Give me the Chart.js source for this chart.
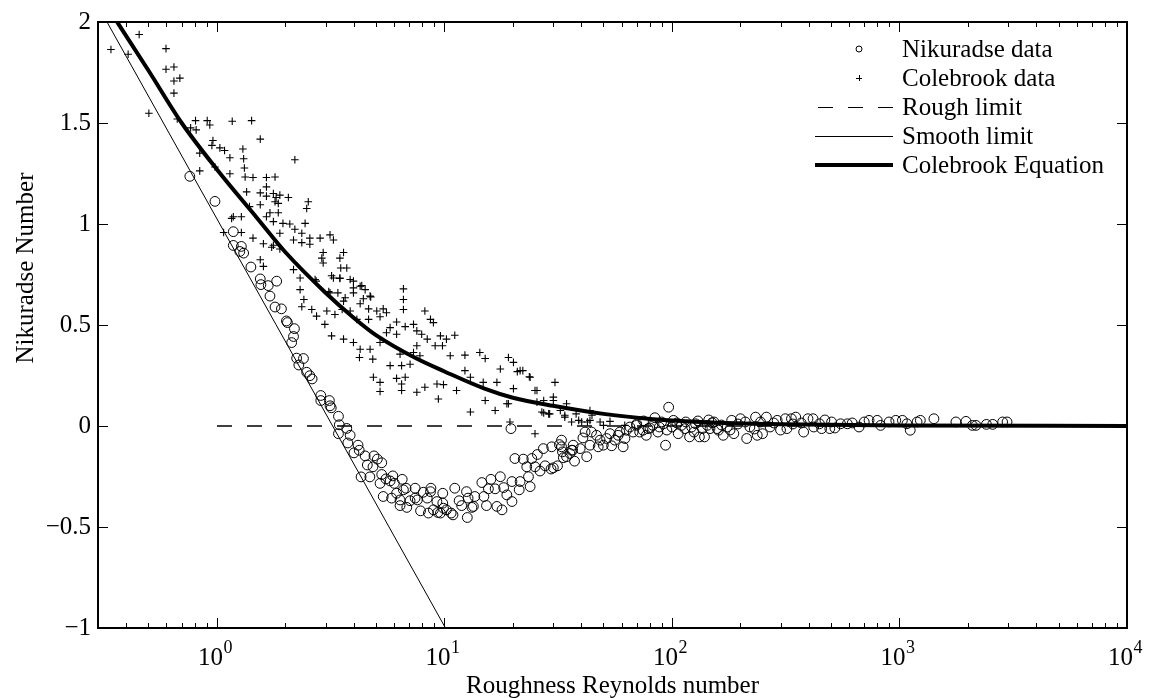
<!DOCTYPE html>
<html>
<head>
<meta charset="utf-8">
<style>
  html, body { margin: 0; padding: 0; background: #fff; }
  canvas { display: block; }
</style>
</head>
<body>
<canvas id="chart" width="1150" height="698"></canvas>
<script src="https://cdn.jsdelivr.net/npm/chart.js"></script>
<script>
// values
const xMin = 0.3, xMax = 10000;
const yMin = -1, yMax = 2;
const xTickExps = [0, 1, 2, 3, 4];
const yTicks = [-1, -0.5, 0, 0.5, 1, 1.5, 2];

const nikX = [0.76, 0.98, 1.18, 1.18, 1.28, 1.26, 1.31, 1.41, 1.55, 1.56, 1.68, 1.83, 1.71, 1.80, 1.92, 2.02, 2.04, 2.19, 2.17, 2.13,
  2.24, 2.40, 2.29, 2.48, 2.56, 2.62, 2.86, 2.86, 3.12, 3.14, 3.18, 3.42, 3.45, 3.72, 3.42, 3.85, 3.76, 4.17, 4.22, 4.00,
  4.48, 4.90, 5.07, 5.30, 4.58, 4.85, 5.30, 5.93, 4.30, 4.70, 5.53, 5.77, 5.21, 6.52, 6.02, 5.38, 5.86, 6.16, 6.60, 6.78,
  6.38, 6.83, 6.38, 7.06, 7.43, 7.43, 7.60, 7.85, 8.07, 8.40, 8.68, 8.72, 8.50, 8.94, 9.26, 9.35, 9.83, 9.90, 9.60, 9.83,
  10.2, 10.7, 10.9, 11.1, 11.6, 11.9, 12.5, 12.7, 12.6, 13.2, 13.6, 13.4, 14.6, 14.9, 15.6, 16.0, 15.3, 16.7, 17.6, 17.0,
  17.9, 18.2, 18.8, 19.8, 19.8, 19.6, 20.4, 21.5, 21.3, 22.2, 23.0, 23.4, 24.2, 23.8, 25.0, 25.6, 26.3, 27.2, 27.7, 29.4,
  29.6, 30.1, 31.4, 32.0, 32.7, 33.3, 33.0, 34.4, 35.6, 36.8, 37.3, 36.6, 32.7, 36.2, 39.5, 40.6, 41.5, 42.2, 43.6, 44.3,
  46.6, 47.4, 48.3, 49.9, 51.6, 53.4, 54.3, 56.1, 58.0, 59.0, 61.0, 62.1, 63.1, 65.3, 67.5, 69.8, 72.1, 74.6, 77.1, 78.5,
  82.4, 84.1, 86.7, 88.0, 91.9, 93.7, 96.7, 99.9, 101.5, 106.5, 110, 114, 119.5, 122, 127, 132, 136, 139, 143, 147,
  150, 153, 158, 160, 168, 175, 183, 187, 200, 213, 220, 233, 237, 250, 260, 270, 290, 315, 320, 335,
  350, 379, 396, 417, 445, 455, 494, 503, 551, 590, 664, 735, 798, 826, 900, 963, 1030, 1078, 1115, 1195,
  1235, 1417, 1770, 1960, 2090, 2170, 2410, 2570, 2840, 2970,
  70, 75, 80, 90, 95, 105, 115, 125, 130, 145, 165, 180, 195, 210, 230, 245, 280, 300, 340, 370, 420, 470, 520, 620, 700];
const nikY = [1.236, 1.112, 0.962, 0.894, 0.889, 0.864, 0.856, 0.787, 0.728, 0.700, 0.695, 0.717, 0.643, 0.589, 0.580, 0.520, 0.512, 0.482, 0.443, 0.413,
  0.336, 0.334, 0.302, 0.266, 0.249, 0.233, 0.151, 0.126, 0.126, 0.100, 0.090, 0.048, 0.006, -0.012, -0.038, -0.046, -0.084, -0.095, -0.120, -0.133,
  -0.148, -0.148, -0.164, -0.182, -0.193, -0.202, -0.240, -0.247, -0.252, -0.252, -0.262, -0.272, -0.284, -0.264, -0.284, -0.349, -0.357, -0.333, -0.316, -0.308,
  -0.366, -0.403, -0.394, -0.370, -0.308, -0.357, -0.366, -0.420, -0.328, -0.357, -0.325, -0.308, -0.431, -0.415, -0.374, -0.428, -0.333, -0.407, -0.431, -0.382,
  -0.415, -0.431, -0.440, -0.308, -0.370, -0.394, -0.325, -0.357, -0.453, -0.403, -0.349, -0.398, -0.280, -0.349, -0.311, -0.264, -0.394, -0.311, -0.251, -0.398,
  -0.415, -0.305, -0.341, -0.275, -0.374, -0.013, -0.161, -0.275, -0.316, -0.164, -0.202, -0.251, -0.161, -0.300, -0.202, -0.141, -0.223, -0.112, -0.197, -0.213,
  -0.103, -0.207, -0.197, -0.092, -0.070, -0.157, -0.128, -0.152, -0.136, -0.095, -0.174, -0.120, -0.103, -0.120, -0.112, -0.059, -0.030, -0.152, -0.095, -0.030,
  -0.046, -0.103, -0.070, -0.095, -0.062, -0.038, -0.098, -0.070, -0.046, -0.030, -0.103, -0.062, -0.021, -0.005, -0.030, 0.003, -0.030, -0.021, -0.046, -0.013,
  0.003, 0.041, -0.030, -0.005, 0.011, -0.095, 0.093, -0.005, 0.028, -0.038, 0.003, -0.013, -0.054, -0.005, 0.011, -0.054, -0.013, -0.054, 0.003, -0.013,
  0.016, 0.020, -0.013, -0.021, -0.046, -0.005, 0.028, -0.038, 0.036, -0.062, -0.005, 0.044, -0.046, -0.038, 0.044, -0.005, 0.028, 0.036, -0.013, 0.036,
  0.044, -0.030, 0.036, 0.036, 0.011, -0.013, -0.013, 0.020, 0.011, 0.011, -0.005, 0.028, 0.028, 0.003, 0.020, 0.028, 0.028, 0.011, -0.021, 0.020,
  0.028, 0.036, 0.020, 0.023, 0.003, 0.003, 0.008, 0.008, 0.020, 0.020,
  0.010, 0.025, -0.010, 0.020, -0.020, 0.015, 0.020, -0.030, 0.025, 0.030, 0.005, -0.020, 0.010, 0.020, -0.015, 0.020, 0.015, -0.020, 0.010, 0.015, -0.005, 0.030, -0.010, 0.015, 0.020];

const colX = [0.342, 0.407, 0.455, 0.502, 0.597, 0.597, 0.647, 0.647, 0.687, 0.647, 0.669, 0.805, 0.906, 0.93, 0.766, 0.81, 1.167, 1.42, 1.55, 0.96,
  0.95, 1.03, 1.08, 1.14, 1.30, 1.31, 1.32, 0.84, 0.84, 0.98, 1.14, 1.33, 1.44, 1.35, 1.65, 1.80, 2.20, 1.65, 1.55, 1.65,
  1.77, 1.82, 1.89, 2.06, 1.80, 1.86, 1.39, 1.55, 1.71, 1.86, 2.52, 2.48, 1.18, 1.28, 1.07, 1.28, 1.44, 1.65, 1.77, 1.95,
  2.09, 2.20, 2.36, 2.44, 2.17, 2.36, 2.56, 2.84, 3.14, 3.25, 2.56, 1.60, 1.77, 1.89, 1.74, 1.55, 1.60, 2.17, 2.32, 2.70,
  2.89, 2.93, 3.60, 3.47, 3.72, 3.25, 3.47, 3.85, 3.98, 4.33, 4.48, 4.71, 2.32, 3.10, 3.66, 4.40, 1.16, 1.89, 2.93, 3.50,
  3.19, 3.47, 3.98, 2.73, 2.41, 2.36, 2.61, 2.74, 3.14, 3.40, 3.60, 3.98, 4.26, 4.74, 4.26, 4.64, 5.04, 5.38, 5.56, 5.21,
  4.64, 4.12, 3.85, 3.55, 3.30, 3.04, 2.98, 3.19, 3.60, 3.98, 4.26, 4.23, 4.84, 4.71, 5.21, 5.56, 6.16, 5.77, 6.16, 6.72,
  7.31, 7.56, 6.60, 6.60, 6.60, 8.20, 8.68, 8.94, 7.94, 8.40, 9.10, 9.60, 10.2, 11.1, 9.8, 7.56, 7.31, 7.8, 6.38, 5.77,
  6.48, 7.06, 6.16, 6.72, 6.48, 5.21, 4.87, 5.21, 6.48, 7.56, 8.20, 9.27, 9.40, 9.9, 10.6, 12.3, 14.3, 15.1, 11.3, 12.3,
  13.0, 14.8, 17.0, 17.6, 19.1, 20.1, 21.5, 23.8, 25.5, 30.6, 30.1, 34.4, 15.1, 16.7, 13.0, 19.1, 19.4, 25.0, 27.3, 28.7,
  33.8, 38.9, 43.6, 44.5, 20.9, 22.1, 23.6, 20.1, 18.8, 25.0, 25.5, 27.3, 26.8, 29.0, 30.1, 32.3, 33.8, 36.2, 37.9, 40.1,
  43.6, 42.5, 48.3, 50, 53.4, 62];
const colY = [1.864, 1.840, 1.938, 1.548, 1.868, 1.766, 1.777, 1.708, 1.722, 1.648, 1.520, 1.512, 1.512, 1.490, 1.476, 1.466, 1.509, 1.512, 1.420, 1.413,
  1.389, 1.377, 1.364, 1.328, 1.371, 1.323, 1.277, 1.351, 1.263, 1.282, 1.249, 1.233, 1.230, 1.159, 1.230, 1.233, 1.318, 1.184, 1.154, 1.138,
  1.151, 1.131, 1.143, 1.131, 1.110, 1.102, 1.086, 1.095, 1.056, 1.056, 1.110, 1.077, 1.036, 1.036, 0.958, 0.958, 0.930, 1.036, 1.012, 1.003,
  1.000, 0.974, 0.954, 1.003, 0.921, 0.908, 0.930, 0.930, 0.946, 0.921, 0.900, 0.902, 0.895, 0.876, 0.885, 0.823, 0.790, 0.774, 0.733, 0.725,
  0.831, 0.859, 0.859, 0.831, 0.782, 0.733, 0.733, 0.725, 0.684, 0.695, 0.675, 0.643, 0.675, 0.665, 0.635, 0.630, 1.028, 0.954, 0.807, 0.782,
  0.744, 0.730, 0.717, 0.717, 0.626, 0.590, 0.577, 0.544, 0.659, 0.659, 0.618, 0.659, 0.692, 0.639, 0.605, 0.580, 0.569, 0.580, 0.561, 0.541,
  0.528, 0.528, 0.569, 0.577, 0.552, 0.569, 0.503, 0.446, 0.430, 0.413, 0.380, 0.339, 0.331, 0.380, 0.413, 0.462, 0.454, 0.487, 0.515, 0.492,
  0.503, 0.471, 0.679, 0.626, 0.577, 0.569, 0.528, 0.512, 0.454, 0.430, 0.397, 0.446, 0.430, 0.449, 0.397, 0.397, 0.364, 0.348, 0.356, 0.299,
  0.299, 0.306, 0.236, 0.241, 0.208, 0.216, 0.241, 0.171, 0.176, 0.167, 0.192, 0.208, 0.134, 0.205, 0.348, 0.351, 0.364, 0.334, 0.176, 0.274,
  0.241, 0.216, 0.216, 0.282, 0.339, 0.315, 0.274, 0.241, 0.176, 0.216, 0.143, 0.110, 0.126, 0.077, 0.069, 0.110, 0.020, -0.038, 0.065, 0.060,
  0.053, 0.028, 0.028, 0.053, 0.269, 0.274, 0.244, 0.185, 0.110, 0.176, 0.118, 0.126, 0.069, 0.060, 0.126, 0.077, 0.044, 0.020, 0.060, 0.020,
  0.077, 0.020, 0.020, 0.003, 0.023, 0.003];

const roughX = [1, 10000];
const roughY = [0, 0];
const smoothX = [0.3, 10.1];
const smoothY = [2.08, -1];
const eqX = [0.35, 0.5, 0.7, 1.0, 1.5, 2, 3, 4, 5, 7.5, 10, 15, 20, 30, 50, 80, 100, 160, 300, 1000, 10000];
const eqY = [2.03, 1.76, 1.50, 1.27, 1.03, 0.86, 0.66, 0.535, 0.45, 0.335, 0.27, 0.185, 0.14, 0.10, 0.06, 0.035, 0.027, 0.016, 0.009, 0.003, 0.0003];

const legendLabels = ['Nikuradse data', 'Colebrook data', 'Rough limit', 'Smooth limit', 'Colebrook Equation'];

const pts = (xs, ys) => xs.map((v, i) => ({ x: v, y: ys[i] }));
const FONT = 'Liberation Serif, Times New Roman, serif';

// frame, inward ticks, x labels with exponents, axis titles, legend
const decor = {
  id: 'decor',
  afterDatasetsDraw(chart) {
    const { ctx, chartArea: a, scales: { x, y } } = chart;
    ctx.save();
    ctx.strokeStyle = '#000';
    ctx.fillStyle = '#000';
    ctx.lineWidth = 1;
    ctx.setLineDash([]);
    ctx.beginPath();
    for (let e = -1; e <= 4; e++) {
      for (let m = 1; m <= 9; m++) {
        const v = m * Math.pow(10, e);
        if (v < xMin * 0.999 || v > xMax * 1.001) continue;
        const px = Math.round(x.getPixelForValue(v)) + 0.5;
        const len = m === 1 ? 10 : 5;
        ctx.moveTo(px, a.bottom); ctx.lineTo(px, a.bottom - len);
        ctx.moveTo(px, a.top); ctx.lineTo(px, a.top + len);
      }
    }
    yTicks.forEach(v => {
      const py = Math.round(y.getPixelForValue(v)) + 0.5;
      ctx.moveTo(a.left, py); ctx.lineTo(a.left + 10, py);
      ctx.moveTo(a.right, py); ctx.lineTo(a.right - 10, py);
    });
    ctx.stroke();
    ctx.lineWidth = 2;
    ctx.strokeRect(a.left, a.top, a.right - a.left, a.bottom - a.top);

    // x tick labels 10^n
    ctx.textBaseline = 'alphabetic';
    xTickExps.forEach(e => {
      const px = x.getPixelForValue(Math.pow(10, e));
      ctx.font = '25px ' + FONT;
      ctx.textAlign = 'right';
      ctx.fillText('10', px + 6, 665);
      ctx.font = '18px ' + FONT;
      ctx.textAlign = 'left';
      ctx.fillText(String(e), px + 6.5, 653);
    });

    // axis titles
    ctx.font = '25px ' + FONT;
    ctx.textAlign = 'center';
    ctx.fillText('Roughness Reynolds number', (a.left + a.right) / 2, 693);
    ctx.save();
    ctx.translate(33, 268);
    ctx.rotate(-Math.PI / 2);
    ctx.fillText('Nikuradse Number', 0, 0);
    ctx.restore();

    // legend
    const lx0 = 815, lx1 = 893, mx = 859, tx = 902;
    const rows = [49, 78, 107, 136, 165];
    ctx.textAlign = 'left';
    legendLabels.forEach((t, i) => ctx.fillText(t, tx, rows[i] + 8));
    ctx.lineWidth = 1;
    ctx.beginPath();
    ctx.arc(mx, rows[0], 3, 0, Math.PI * 2);
    ctx.stroke();
    ctx.beginPath();
    ctx.moveTo(mx - 3, rows[1] + 0.5); ctx.lineTo(mx + 3, rows[1] + 0.5);
    ctx.moveTo(mx + 0.5, rows[1] - 3); ctx.lineTo(mx + 0.5, rows[1] + 3);
    ctx.stroke();
    ctx.setLineDash([15, 15]);
    ctx.beginPath();
    ctx.moveTo(lx1, rows[2] + 0.5); ctx.lineTo(lx0, rows[2] + 0.5);
    ctx.stroke();
    ctx.setLineDash([]);
    ctx.beginPath();
    ctx.moveTo(lx0, rows[3] + 0.5); ctx.lineTo(lx1, rows[3] + 0.5);
    ctx.stroke();
    ctx.lineWidth = 4;
    ctx.beginPath();
    ctx.moveTo(lx0, rows[4]); ctx.lineTo(lx1, rows[4]);
    ctx.stroke();
    ctx.restore();
  }
};

new Chart(document.getElementById('chart'), {
  type: 'scatter',
  data: {
    datasets: [
      { label: legendLabels[4], data: pts(eqX, eqY), showLine: true, borderColor: '#000', borderWidth: 4,
        pointRadius: 0, cubicInterpolationMode: 'monotone', order: 0 },
      { label: legendLabels[3], data: pts(smoothX, smoothY), showLine: true, borderColor: '#000', borderWidth: 1,
        pointRadius: 0, order: 1 },
      { label: legendLabels[2], data: pts(roughX, roughY), showLine: true, borderColor: '#000', borderWidth: 1.3,
        borderDash: [15, 15], pointRadius: 0, order: 2 },
      { label: legendLabels[1], data: pts(colX, colY), pointStyle: 'cross', pointRadius: 3.8, borderColor: '#000',
        borderWidth: 1.1, backgroundColor: 'rgba(0,0,0,0)', order: 3 },
      { label: legendLabels[0], data: pts(nikX, nikY), pointStyle: 'circle', pointRadius: 4.9, borderColor: '#000',
        borderWidth: 1, backgroundColor: 'rgba(0,0,0,0)', order: 4 }
    ]
  },
  options: {
    responsive: false,
    animation: false,
    devicePixelRatio: 1,
    layout: { padding: { left: 0, top: 17, right: 23, bottom: 0 } },
    plugins: { legend: { display: false }, tooltip: { enabled: false } },
    scales: {
      x: {
        type: 'logarithmic', min: xMin, max: xMax, position: 'bottom',
        grid: { display: false, drawTicks: false }, border: { display: false },
        ticks: { display: false },
        afterFit: s => { s.height = 70; }
      },
      y: {
        type: 'linear', min: yMin, max: yMax, position: 'left',
        grid: { display: false, drawTicks: false }, border: { display: false },
        ticks: {
          stepSize: 0.5, padding: 7, color: '#000',
          font: { family: FONT, size: 25 },
          callback: v => String(v).replace('-', '\u2212')
        },
        afterFit: s => { s.width = 98; }
      }
    }
  },
  plugins: [decor]
});
</script>
</body>
</html>
